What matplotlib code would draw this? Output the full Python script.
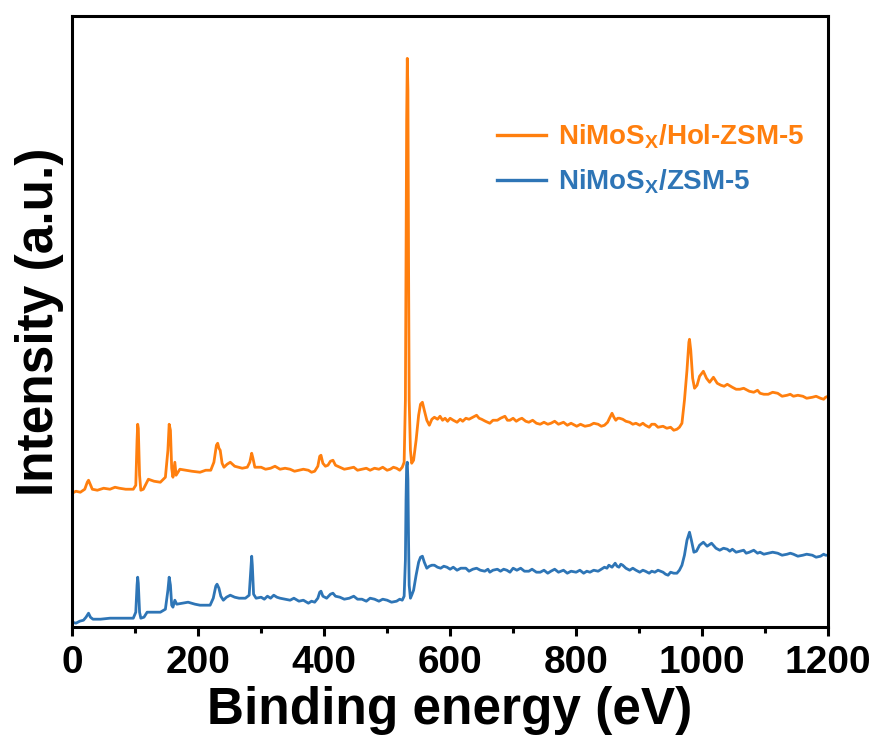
import numpy as np
import matplotlib
matplotlib.use('Agg')
import matplotlib.pyplot as plt

plt.rcParams['font.family'] = ['Liberation Sans', 'DejaVu Sans']
plt.rcParams['font.weight'] = 'bold'
plt.rcParams['mathtext.fontset'] = 'custom'
plt.rcParams['mathtext.rm'] = 'Liberation Sans:bold'
plt.rcParams['mathtext.it'] = 'Liberation Sans:bold'
plt.rcParams['mathtext.bf'] = 'Liberation Sans:bold'

# XPS survey of NiMoSx/Hol-ZSM-5
hol_energy = [0, 6, 13, 20, 24, 26, 28, 32, 40, 50, 60, 68, 75, 85, 97, 101, 103, 104, 105, 107,
              109, 113, 121, 130, 140, 148, 152, 154, 156, 158, 160, 163, 165, 171, 180, 190, 203,
              212, 220, 225, 229, 231, 233, 235, 238, 241, 246, 251, 258, 270, 278, 282, 285, 287, 290,
              300, 307, 315, 322, 330, 338, 346, 353, 360, 367, 375, 380, 385, 390, 393, 395, 398,
              402, 406, 410, 414, 418, 425, 432, 440, 447, 453, 460, 467, 473, 480, 487, 493, 500,
              505, 510, 515, 520, 524,
              527, 529, 530, 531, 532, 533, 534, 535, 537, 539, 542, 546, 550, 553, 556, 559, 563,
              567, 571,
              575, 580, 584, 588, 592, 596, 600, 605, 611, 616, 620, 625, 630, 636, 642, 646, 650,
              656, 663, 668, 675, 680, 687, 691, 695, 700, 705, 710, 714, 720, 725, 731, 737, 743,
              749, 755, 760, 766, 772, 780, 786, 792, 801, 807, 814, 822, 828, 835, 840, 845, 850,
              853, 857, 860, 863, 866, 869, 874, 879, 885, 890, 895, 901, 906, 910, 916, 920, 925,
              930, 938, 944, 950, 955, 960, 964, 968,
              972, 976, 979, 980, 982, 985, 988, 992, 996, 1002, 1007, 1012, 1018, 1024, 1030, 1035,
              1040, 1048, 1054, 1060, 1066, 1075, 1082, 1088, 1092, 1098, 1105, 1112, 1120, 1127,
              1135, 1140, 1145, 1152, 1160, 1166, 1175, 1181, 1188, 1193, 1196, 1200]
hol_intensity = [134, 136, 135, 138, 145, 147, 144, 138, 137, 139, 138, 140, 139, 138, 138, 142, 187,
                 203, 199, 152, 137, 138, 148, 146, 145, 150, 177, 203, 197, 159, 150, 165, 152, 158,
                 157, 156, 155, 157, 157, 165, 182, 184, 179, 177, 164, 160, 163, 165, 161, 159, 160,
                 165, 174, 169, 160,
                 160, 158, 159, 161, 158, 159, 158, 156, 157, 158, 157, 155, 156, 161, 171, 172, 164,
                 161, 162, 166, 167, 162, 160, 158, 159, 160, 157, 158, 159, 157, 159, 158, 160, 157,
                 158, 160, 159, 157, 160,
                 165, 227, 377, 507, 569, 537, 367, 227, 177, 164, 167, 187, 212, 223, 225, 217, 207,
                 202, 208,
                 210, 208, 211, 207, 209, 206, 209, 207, 205, 208, 206, 209, 208, 210, 212, 209, 208,
                 206, 204, 207, 207, 209, 211, 207, 207, 209, 206, 208, 209, 206, 205, 207, 204, 203,
                 205, 203, 204, 206, 203, 205, 202, 204, 201, 203, 201, 202, 204, 203, 201, 202, 205,
                 209, 214, 210, 207, 209, 209, 208, 206, 205, 203, 204, 202, 204, 202, 200, 203, 203,
                 200, 201, 199, 200, 197, 198, 200, 204,
                 227, 257, 285, 288, 277, 249, 239, 242, 251, 256, 249, 245, 250, 244, 242, 241,
                 243, 240, 238, 238, 239, 236, 235, 237, 234, 233, 233, 235, 234, 231,
                 232, 233, 231, 232, 231, 229, 230, 231, 229, 228, 230, 231]

# XPS survey of NiMoSx/ZSM-5
zsm_energy = [0, 6, 12, 18, 22, 26, 29, 33, 45, 60, 75, 90, 97, 101, 103, 104, 105, 107, 109, 114,
              119, 130, 140, 148, 152, 154, 156, 158, 160, 163, 166, 175, 184, 195, 203, 212, 219,
              224, 228, 230, 233, 236, 240, 245, 251, 258, 265, 275, 281, 284, 285, 286, 288, 292,
              300, 305, 310, 315, 320, 325, 330, 338, 346, 352, 360, 367, 375, 380, 385, 390, 393,
              395, 398, 404, 410, 414, 418, 425, 432, 440, 447, 453, 460, 467, 473, 480, 487, 493,
              500, 507, 515, 520, 524,
              527, 529, 530, 531, 532, 533, 534, 535, 537, 539, 542, 546, 550, 553, 556, 559, 563,
              567, 571,
              575, 580, 585, 590, 595, 600, 605, 611, 617, 625, 630, 636, 642, 648, 655, 660, 663,
              668, 675, 680, 685, 690, 695, 700, 706, 712, 718, 725, 730, 737, 743, 749, 755, 760,
              766, 772, 780, 786, 792, 800, 806, 812, 817, 822, 828, 835, 840, 845, 849, 852, 857,
              862, 865, 868, 871, 874, 879, 885, 890, 895, 901, 906, 910, 916, 920, 925, 930, 938,
              942, 946, 950, 955, 960, 964, 968,
              972, 976, 980, 983, 987, 991, 996, 1002, 1008, 1015, 1022, 1028, 1034, 1040, 1044,
              1048, 1054, 1060, 1066, 1070, 1075, 1082, 1088, 1092, 1098, 1105, 1112, 1120, 1127,
              1135, 1140, 1145, 1152, 1160, 1166, 1175, 1181, 1188, 1193, 1196, 1200]
zsm_intensity = [5, 4, 6, 7, 10, 14, 10, 8, 8, 9, 9, 9, 9, 15, 42, 50, 44, 15, 9, 10, 15, 15, 15,
                 18, 37, 50, 42, 22, 20, 27, 23, 24, 25, 23, 22, 22, 22, 29, 41, 43, 39, 31, 27, 30,
                 32, 30, 29, 29, 32, 61, 71, 62, 33, 29,
                 30, 28, 31, 29, 32, 30, 29, 28, 27, 29, 26, 27, 24, 26, 25, 29, 35, 36, 31, 29, 33,
                 34, 31, 30, 28, 29, 31, 28, 28, 26, 29, 28, 26, 28, 27, 25, 26, 28, 27,
                 31, 67, 127, 162, 165, 147, 87, 42, 29, 32, 37, 52, 65, 70, 71, 65, 59, 61, 62,
                 62, 60, 59, 61, 60, 58, 60, 57, 59, 59, 56, 58, 59, 57, 56, 58, 55, 57, 58, 56, 58,
                 57, 55, 59, 57, 59, 56, 56, 58, 55, 55, 57, 54, 56, 58, 55, 57, 54, 56, 55, 57, 54,
                 56, 55, 57, 56, 58, 60, 59, 62, 60, 64, 61, 60, 63, 62, 59, 57, 59, 57, 55, 57, 56,
                 54, 56, 55, 57, 55, 53, 52, 55, 54, 54, 57, 62,
                 72, 87, 95, 87, 75, 76, 82, 85, 81, 84, 79, 77, 79, 78, 76, 78, 75, 76, 77, 74,
                 75, 77, 74, 75, 73, 74, 75, 74, 72, 73, 74, 73, 71, 72, 73, 72, 70, 71, 73, 72, 72]

labels = [r'NiMoS$_\mathrm{X}$/Hol-ZSM-5', r'NiMoS$_\mathrm{X}$/ZSM-5']
orange = '#FF7F0E'
blue = '#2E75B6'

fig = plt.figure(figsize=(8.8, 7.44), dpi=100)
ax = fig.add_axes([0.082, 0.157, 0.859, 0.821])

ax.plot(hol_energy, hol_intensity, color=orange, lw=2.0, label=labels[0])
ax.plot(zsm_energy, zsm_intensity, color=blue, lw=2.0, label=labels[1])

ax.set_xlim(0, 1200)
ax.set_ylim(0, 611)
ax.set_xticks(np.arange(0, 1201, 200))
ax.set_xticks(np.arange(100, 1200, 200), minor=True)
ax.set_yticks([])
ax.tick_params(axis='x', which='major', direction='out', length=6.5, width=2.2,
               labelsize=28, pad=6)
ax.tick_params(axis='x', which='minor', direction='out', length=4, width=2.2)
for sp in ax.spines.values():
    sp.set_linewidth(2.2)

ax.set_xlabel('Binding energy (eV)', fontsize=37, fontweight='bold', labelpad=4)
ax.set_ylabel('Intensity (a.u.)', fontsize=37, fontweight='bold', labelpad=6)

leg = ax.legend(loc='upper left', bbox_to_anchor=(0.562, 0.826), frameon=False, fontsize=20,
                handlelength=1.75, handletextpad=0.45, labelspacing=0.6,
                borderpad=0, borderaxespad=0)
for txt, line in zip(leg.get_texts(), leg.get_lines()):
    txt.set_color(line.get_color())
    line.set_linewidth(2.4)

fig.savefig('out.png', dpi=100)
